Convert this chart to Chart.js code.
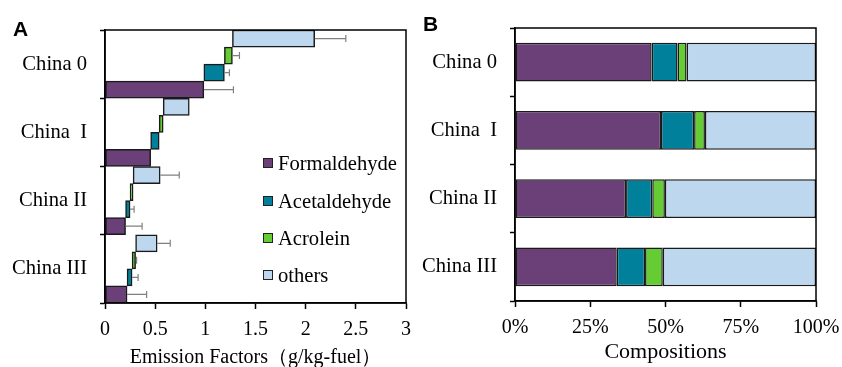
<!DOCTYPE html>
<html>
<head>
<meta charset="utf-8">
<script src="https://cdn.jsdelivr.net/npm/chart.js@4"></script>
<style>
html, body { margin: 0; padding: 0; background: #fff; }
#wrap { position: relative; width: 842px; height: 367px; overflow: hidden; }
canvas { position: absolute; top: 0; }
#chartA { left: 0; }
#chartB { left: 420px; }
.tag { position: absolute; font: bold 21px "Liberation Sans", Arial, sans-serif; line-height: 1; }
#legendA { position: absolute; left: 263px; top: 0; font: 20.6px "Liberation Serif", "Times New Roman", serif; color: #000; }
.item { position: absolute; left: 0; white-space: nowrap; height: 20px; line-height: 20px; }
.box { position: absolute; left: 0; top: 5px; width: 10px; height: 10px; box-sizing: border-box; border: 1px solid #222; }
.txt { position: absolute; left: 15px; top: 0; }
</style>
</head>
<body>
<div id="wrap">
  <canvas id="chartA" width="420" height="367"></canvas>
  <canvas id="chartB" width="422" height="367"></canvas>
  <div class="tag" style="left:13px;top:18px;">A</div>
  <div class="tag" style="left:423px;top:13px;">B</div>
  <div id="legendA"></div>
</div>
<script>
// categories
var categories = ['China 0', 'China  I', 'China II', 'China III'];

// panel A: emission factors (g/kg-fuel)
var formaldehyde = [0.985, 0.455, 0.205, 0.22];
var acetaldehyde = [0.205, 0.085, 0.045, 0.05];
var acrolein = [0.08, 0.04, 0.03, 0.035];
var others = [0.82, 0.26, 0.27, 0.215];

// error bars (length beyond the bar end)
var errFormaldehyde = [0.295, 0, 0.165, 0.195];
var errAcetaldehyde = [0.05, 0, 0.04, 0.06];
var errAcrolein = [0.07, 0, 0, 0.01];
var errOthers = [0.31, 0, 0.19, 0.13];

// panel B: compositions (%)
var pctFormaldehyde = [45.4, 48.5, 36.9, 33.8];
var pctAcetaldehyde = [8.6, 11.0, 8.7, 9.4];
var pctAcrolein = [3.0, 3.6, 4.2, 5.9];
var pctOthers = [43.0, 36.9, 50.2, 50.9];

var xTicksA = [0, 3, 0.5];
var xTicksB = [0, 100, 25];

var colors = {
    Formaldehyde: '#6B4079',
    Acetaldehyde: '#00809A',
    Acrolein: '#66CC33',
    others: '#BDD7EE'
};
var edge = '#1a1a1a';

Chart.defaults.font.family = '"Liberation Serif", "Times New Roman", serif';
Chart.defaults.font.size = 20;
Chart.defaults.color = '#000';

// box around the plot area
const frame = {
    id: 'frame',
    afterDraw(chart) {
        const {ctx, chartArea: a} = chart;
        ctx.save();
        ctx.strokeStyle = '#000';
        ctx.lineWidth = 1.5;
        ctx.strokeRect(a.left, a.top, a.right - a.left, a.bottom - a.top);
        ctx.restore();
    }
};

// one-sided error bars at the end of each bar
const errorBars = {
    id: 'errorBars',
    afterDatasetsDraw(chart) {
        const {ctx, scales: {x}} = chart;
        ctx.save();
        ctx.strokeStyle = '#808080';
        ctx.lineWidth = 1.2;
        chart.data.datasets.forEach((ds, di) => {
            const meta = chart.getDatasetMeta(di);
            ds.errors.forEach((e, i) => {
                if (!e) return;
                const bar = meta.data[i];
                const x0 = x.getPixelForValue(ds.data[i].x[1]);
                const x1 = x.getPixelForValue(ds.data[i].x[1] + e);
                ctx.beginPath();
                ctx.moveTo(x0, bar.y);
                ctx.lineTo(x1, bar.y);
                ctx.moveTo(x1, bar.y - 3.5);
                ctx.lineTo(x1, bar.y + 3.5);
                ctx.stroke();
            });
        });
        ctx.restore();
    }
};

// fixed axis box sizes so the plot areas line up with the figure
function fixX(h) {
    return s => { s.height = h; s.paddingLeft = 0; s.paddingRight = 0; };
}
function fixY(w) {
    return s => { s.width = w; s.paddingTop = 0; s.paddingBottom = 0; };
}

// panel A: each substance sits on its own row inside the group, starting where the previous ends
var seriesA = [
    {label: 'Formaldehyde', values: formaldehyde, errors: errFormaldehyde, row: 3},
    {label: 'Acetaldehyde', values: acetaldehyde, errors: errAcetaldehyde, row: 2},
    {label: 'Acrolein', values: acrolein, errors: errAcrolein, row: 1},
    {label: 'others', values: others, errors: errOthers, row: 0}
];

let datasetsA = seriesA.map((s, k) => {
    return {
        label: s.label,
        data: categories.map((c, g) => {
            let start = 0;
            for (let j = 0; j < k; j++) start += seriesA[j].values[g];
            return {x: [start, start + s.values[g]], y: g * 4 + s.row + 0.5};
        }),
        errors: s.errors,
        backgroundColor: colors[s.label],
        borderColor: edge,
        borderWidth: 1.5,
        borderSkipped: false,
        grouped: false,
        categoryPercentage: 1,
        barPercentage: 1
    };
});

let chartA = new Chart(document.getElementById('chartA').getContext('2d'), {
    type: 'bar',
    data: {datasets: datasetsA},
    options: {
        responsive: false,
        animation: false,
        indexAxis: 'y',
        layout: {padding: {top: 30, right: 14, left: 0, bottom: 0}},
        plugins: {legend: {display: false}, tooltip: {enabled: false}},
        scales: {
            x: {
                type: 'linear',
                min: xTicksA[0],
                max: xTicksA[1],
                ticks: {stepSize: xTicksA[2], padding: 9, color: '#000', callback: v => String(v)},
                grid: {drawOnChartArea: false, tickLength: 6, tickColor: '#000', tickWidth: 1.5},
                border: {color: '#000', width: 1.5},
                title: {display: true, text: 'Emission Factors（g/kg-fuel）', font: {size: 20, lineHeight: 0.9}, padding: 0, color: '#000'},
                afterFit: fixX(64)
            },
            y: {
                type: 'linear',
                reverse: true,
                offset: false,
                min: 0,
                max: categories.length * 4,
                ticks: {
                    stepSize: 2,
                    autoSkip: false,
                    padding: 13,
                    color: '#000',
                    font: {size: 20.6},
                    callback: v => (v % 4 === 2 ? categories[(v - 2) / 4] : '')
                },
                grid: {
                    offset: false,
                    drawOnChartArea: false,
                    tickLength: 5,
                    tickWidth: 1.5,
                    tickColor: ctx => (ctx.tick && ctx.tick.value % 4 === 0 ? '#000' : 'rgba(0,0,0,0)')
                },
                border: {color: '#000', width: 1.5},
                afterFit: fixY(105)
            }
        }
    },
    plugins: [errorBars, frame]
});

// legend for panel A
let legendRows = [163, 201, 238, 275];
let legendEl = document.getElementById('legendA');
chartA.data.datasets.forEach((ds, i) => {
    let item = document.createElement('div');
    item.className = 'item';
    item.style.top = (legendRows[i] - 10) + 'px';
    item.innerHTML = '<span class="box" style="background:' + ds.backgroundColor + '"></span><span class="txt">' + ds.label + '</span>';
    legendEl.appendChild(item);
});

// panel B: 100% stacked compositions
var seriesB = [
    {label: 'Formaldehyde', values: pctFormaldehyde},
    {label: 'Acetaldehyde', values: pctAcetaldehyde},
    {label: 'Acrolein', values: pctAcrolein},
    {label: 'others', values: pctOthers}
];

let chartB = new Chart(document.getElementById('chartB').getContext('2d'), {
    type: 'bar',
    data: {
        labels: categories,
        datasets: seriesB.map(s => ({
            label: s.label,
            data: s.values,
            backgroundColor: colors[s.label],
            borderColor: edge,
            borderWidth: 1.5,
            borderSkipped: false,
            categoryPercentage: 0.57,
            barPercentage: 1
        }))
    },
    options: {
        responsive: false,
        animation: false,
        indexAxis: 'y',
        layout: {padding: {top: 28, right: 26, left: 0, bottom: 0}},
        plugins: {legend: {display: false}, tooltip: {enabled: false}},
        scales: {
            x: {
                stacked: true,
                min: xTicksB[0],
                max: xTicksB[1],
                ticks: {stepSize: xTicksB[2], padding: 9, color: '#000', callback: v => v + '%'},
                grid: {drawOnChartArea: false, tickLength: 6, tickColor: '#000', tickWidth: 1.5},
                border: {color: '#000', width: 1.5},
                title: {display: true, text: 'Compositions', font: {size: 22, lineHeight: 1}, padding: {top: 0, bottom: 4}, color: '#000'},
                afterFit: fixX(66)
            },
            y: {
                stacked: true,
                ticks: {padding: 13, color: '#000', font: {size: 20.6}},
                grid: {drawOnChartArea: false, tickLength: 5, tickColor: '#000', tickWidth: 1.5},
                border: {color: '#000', width: 1.5},
                afterFit: fixY(95)
            }
        }
    },
    plugins: [frame]
});
</script>
</body>
</html>
